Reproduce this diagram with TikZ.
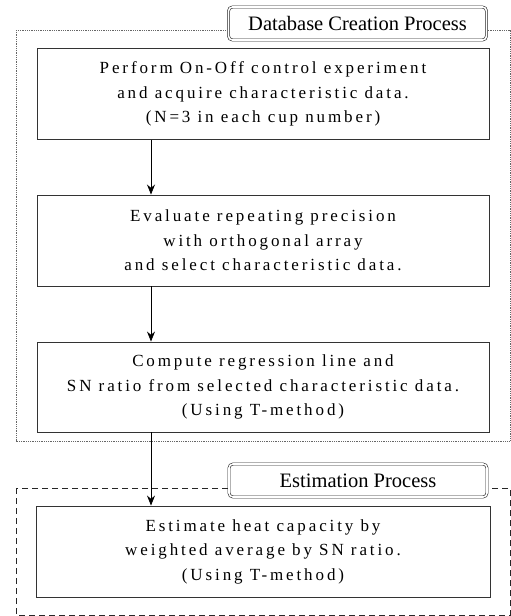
\documentclass[tikz,border=0pt]{standalone}
\usepackage{fontspec}
\setmainfont{Liberation Serif}
\newfontfamily\stepfont[LetterSpace=17]{Liberation Serif}
\usetikzlibrary{arrows.meta}

\tikzset{
    stepbox/.style={draw=black!80, line width=0.9pt, align=center, inner sep=0pt,
        minimum width=452pt, minimum height=91pt,
        font=\stepfont\fontsize{17}{24.5}\selectfont},
    titlebox/.style={draw=black!85, double, double distance=1.6pt, line width=0.6pt,
        rounded corners=4pt, fill=white, inner sep=0pt,
        minimum width=258pt, minimum height=33pt, font=\fontsize{20.5}{22}\selectfont},
    flow/.style={-{Stealth[length=10pt,width=8pt]}, line width=0.8pt},
}

\begin{document}
\begin{tikzpicture}[x=1pt, y=-1pt]
    \useasboundingbox (0,0) rectangle (511,616);

    % process frames
    \draw[black!60, line width=0.8pt, densely dotted] (16,30) rectangle (510,441);
    \draw[black!85, line width=0.8pt, dash pattern=on 6pt off 4pt] (16,488) rectangle (510,615);

    \node[titlebox] (dbtitle) at (357.5,23.5) {Database Creation Process};
    \node[titlebox] (esttitle) at (358,480.5) {Estimation Process};

    % steps
    \node[stepbox] (acquire) at (263,94) {Perform On-Off control experiment\\and acquire characteristic data.\\(N=3 in each cup number)};
    \node[stepbox] (select) at (263,240.5) {Evaluate repeating precision\\with orthogonal array\\and select characteristic data.};
    \node[stepbox, minimum height=90pt] (regress) at (263,387) {Compute regression line and\\SN ratio from selected characteristic data.\\(Using T-method)};
    \node[stepbox, minimum width=454pt] (estimate) at (263,551.5) {Estimate heat capacity by\\weighted average by SN ratio.\\(Using T-method)};

    \coordinate (axis) at (151,0);
    \draw[flow] (acquire.south -| axis) -- (select.north -| axis);
    \draw[flow] (select.south -| axis) -- (regress.north -| axis);
    \draw[flow] (regress.south -| axis) -- (estimate.north -| axis);

\end{tikzpicture}
\end{document}
